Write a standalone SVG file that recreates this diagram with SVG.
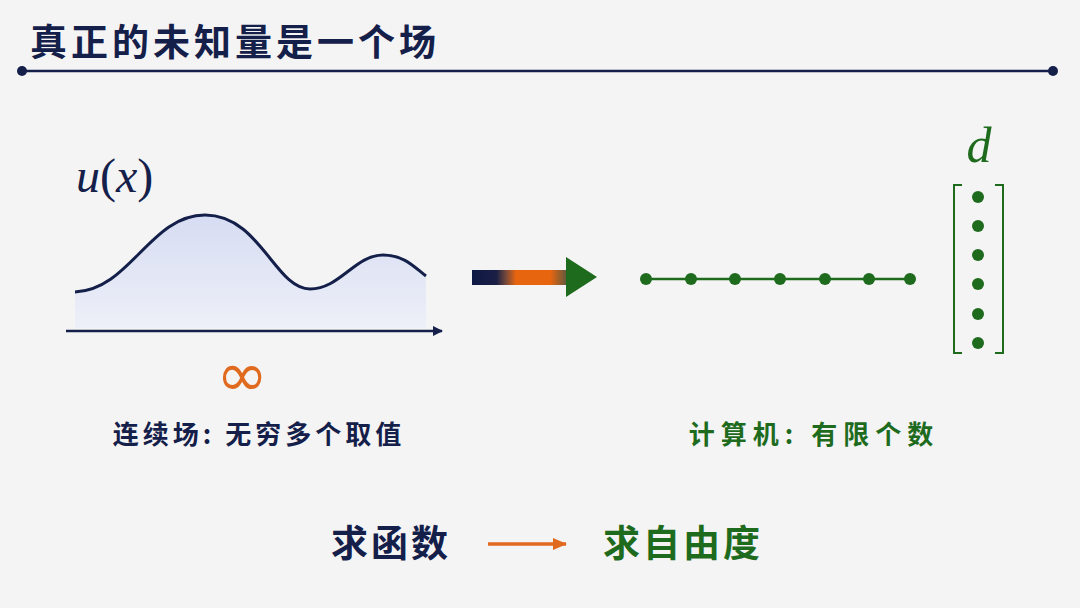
<svg xmlns="http://www.w3.org/2000/svg" width="1080" height="608" viewBox="0 0 1080 608">
<defs>
<style>
.cj{font-family:"Noto Sans CJK SC","Noto Sans",sans-serif;font-weight:bold}
.nv{fill:#14204a}.gr{fill:#1e6b1e}
.math{font-family:"Liberation Serif",serif;font-style:italic}
</style>
<linearGradient id="fillg" x1="0" y1="0" x2="0" y2="1"><stop offset="0" stop-color="#d6dcf2"/><stop offset="1" stop-color="#eef0f8"/></linearGradient>
<linearGradient id="barg" x1="0" y1="0" x2="1" y2="0"><stop offset="0" stop-color="#0e1845"/><stop offset="0.25" stop-color="#1a1f45"/><stop offset="0.35" stop-color="#7a4a3a"/><stop offset="0.45" stop-color="#e8650f"/><stop offset="0.8" stop-color="#e8650f"/><stop offset="0.95" stop-color="#6e5a3a"/><stop offset="1" stop-color="#1e6b1e"/></linearGradient>
<marker id="ah" markerWidth="10" markerHeight="10" refX="9" refY="5" orient="auto" markerUnits="userSpaceOnUse"><path d="M0,0 L10,5 L0,10 z" fill="#14204a"/></marker>
<marker id="ao" markerWidth="14" markerHeight="14" refX="13" refY="7" orient="auto" markerUnits="userSpaceOnUse"><path d="M0,1 L14,7 L0,13 z" fill="#e06a1e"/></marker>
</defs>
<rect width="1080" height="608" fill="#f4f4f4"/>
<g id="title"><text x="30" y="56" class="cj nv" font-size="37" letter-spacing="4">真正的未知量是一个场</text>
<line x1="22" y1="71" x2="1053" y2="71" stroke="#14204a" stroke-width="2.5"/>
<circle cx="22" cy="71" r="5" fill="#14204a"/><circle cx="1053" cy="71" r="5" fill="#14204a"/></g>
<g id="field">
<text x="76" y="192" class="nv" font-family="Liberation Serif,serif" font-size="48"><tspan font-style="italic">u</tspan>(<tspan font-style="italic">x</tspan>)</text>
<path d="M75,292 C130,290 150,215 205,215 C260,215 275,289 310,289 C340,289 355,255 383,255 C405,255 415,268 426,276 L426,328 L75,328 Z" fill="url(#fillg)"/>
<path d="M75,292 C130,290 150,215 205,215 C260,215 275,289 310,289 C340,289 355,255 383,255 C405,255 415,268 426,276" fill="none" stroke="#14204a" stroke-width="3"/>
<line x1="66" y1="331" x2="442" y2="331" stroke="#14204a" stroke-width="2.5" marker-end="url(#ah)"/>
<text x="242" y="396" font-family="DejaVu Sans,sans-serif" font-size="62" fill="#e06a1e" text-anchor="middle">∞</text>
<text x="259" y="444" class="cj nv" font-size="26" letter-spacing="4" text-anchor="middle">连续场: 无穷多个取值</text>
</g>
<g id="bigarrow"><rect x="472" y="270" width="98" height="15" fill="url(#barg)"/><path d="M566,257 L597,277 L566,297 Z" fill="#1e6b1e"/></g>
<g id="chain">
<line x1="646" y1="279" x2="910" y2="279" stroke="#1e6b1e" stroke-width="2.5"/>
<g fill="#1e6b1e"><circle cx="646" cy="279" r="6"/><circle cx="691" cy="279" r="6"/><circle cx="735" cy="279" r="6"/><circle cx="780" cy="279" r="6"/><circle cx="825" cy="279" r="6"/><circle cx="869" cy="279" r="6"/><circle cx="910" cy="279" r="6"/></g>
<text x="814" y="444" class="cj gr" font-size="26" letter-spacing="6" text-anchor="middle">计算机: 有限个数</text>
</g>
<g id="vector">
<text x="979" y="162" class="math gr" font-size="50" text-anchor="middle">d</text>
<path d="M962,185 L954,185 L954,353 L962,353 M995,185 L1003,185 L1003,353 L995,353" fill="none" stroke="#1e6b1e" stroke-width="2"/>
<g fill="#1e6b1e"><circle cx="978" cy="197" r="6"/><circle cx="978" cy="226" r="6"/><circle cx="978" cy="255" r="6"/><circle cx="978" cy="284" r="6"/><circle cx="978" cy="314" r="6"/><circle cx="978" cy="343" r="6"/></g>
</g>
<g id="bottom">
<text x="391" y="557" class="cj nv" font-size="37" letter-spacing="3" text-anchor="middle">求函数</text>
<line x1="488" y1="544" x2="566" y2="544" stroke="#e06a1e" stroke-width="3.5" marker-end="url(#ao)"/>
<text x="683" y="557" class="cj gr" font-size="37" letter-spacing="3" text-anchor="middle">求自由度</text>
</g>
</svg>
